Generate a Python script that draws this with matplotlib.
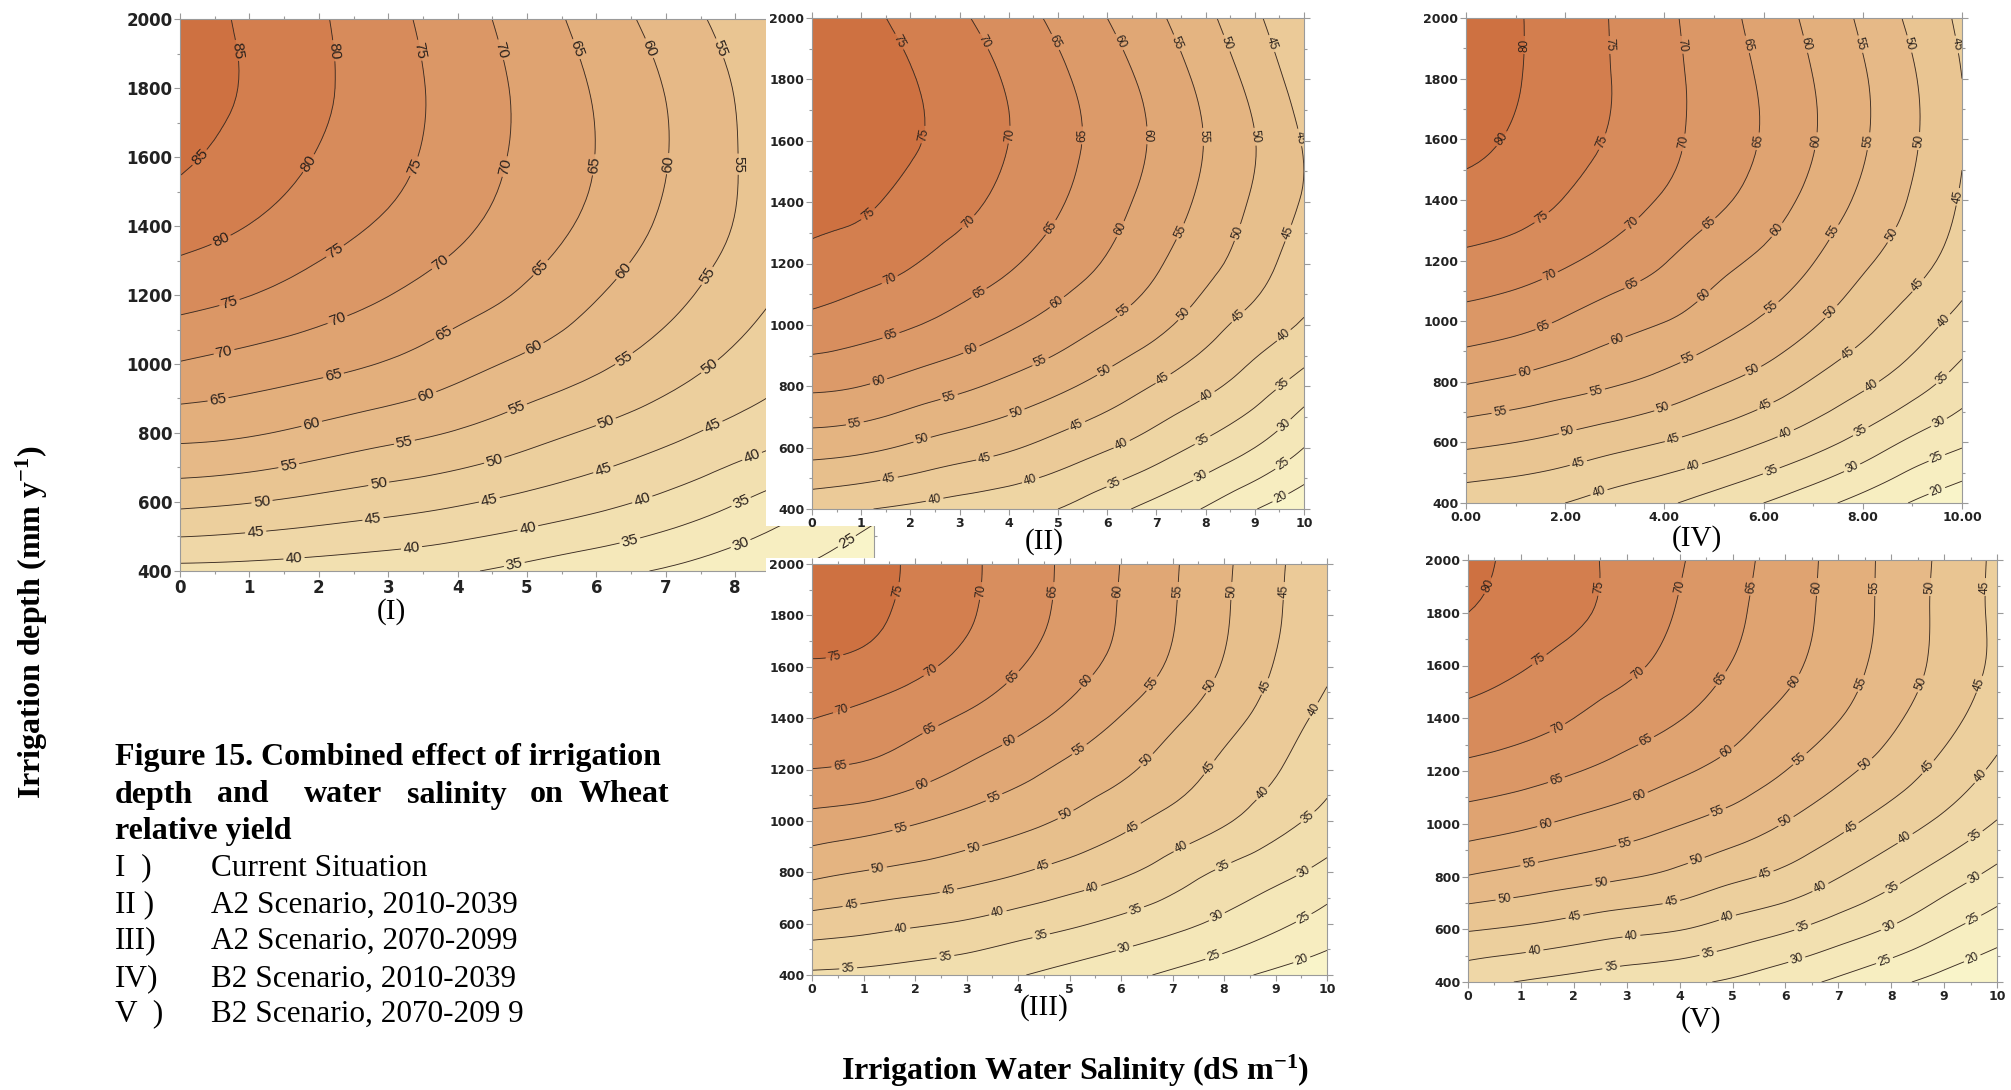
import numpy as np
import matplotlib
matplotlib.use('Agg')
import matplotlib.pyplot as plt
import matplotlib.tri as mtri
from matplotlib.colors import LinearSegmentedColormap
from matplotlib.patches import Rectangle
from matplotlib.ticker import MultipleLocator, FormatStrFormatter

plt.rcParams['font.family'] = ['Liberation Serif', 'DejaVu Serif']
plt.rcParams['mathtext.default'] = 'regular'

# salinity (dS/m) along x, irrigation depth (mm/y) along y
salinity = [0, 1, 2, 3, 4, 5, 6, 7, 8, 9, 10]
depth = [400, 600, 800, 1000, 1200, 1400, 1600, 1800, 2000]

# relative yield (%), one row per depth (400 -> 2000)
yield_current = [
    [38.5, 38.2, 37.6, 36.8, 35.6, 33.6, 31.5, 29.5, 27.0, 24.5, 22.0],
    [51.2, 50.2, 48.7, 47.2, 45.6, 43.6, 41.4, 38.7, 35.3, 31.3, 27.0],
    [61.4, 60.5, 58.6, 56.6, 54.6, 51.9, 49.2, 46.4, 43.3, 40.0, 35.0],
    [69.7, 68.1, 66.5, 64.6, 61.8, 58.9, 55.9, 52.5, 48.8, 45.0, 40.5],
    [76.9, 75.1, 72.6, 70.1, 67.3, 64.2, 60.3, 56.6, 52.5, 48.2, 43.5],
    [82.0, 79.9, 77.1, 74.2, 71.0, 67.5, 63.6, 59.1, 54.8, 50.0, 45.0],
    [85.8, 83.0, 79.7, 76.5, 72.8, 68.9, 64.9, 60.2, 55.2, 50.5, 45.5],
    [87.0, 84.5, 80.9, 77.1, 73.1, 68.9, 64.5, 59.8, 54.8, 50.0, 45.0],
    [87.5, 84.1, 80.6, 76.5, 72.2, 67.7, 62.8, 57.9, 53.0, 48.0, 43.0],
]
yield_a2_2039 = [
    [41.5, 40.3, 39.1, 37.8, 36.5, 35.0, 31.7, 28.2, 24.6, 20.2, 16.5],
    [52.0, 51.1, 49.3, 47.4, 45.6, 43.1, 40.4, 37.3, 33.8, 30.0, 25.0],
    [60.9, 60.0, 58.0, 56.0, 53.7, 51.1, 48.0, 44.6, 41.2, 37.3, 32.6],
    [68.4, 67.0, 65.4, 63.2, 60.7, 57.9, 54.8, 51.4, 47.1, 43.0, 39.5],
    [73.7, 72.2, 70.3, 68.0, 65.6, 62.7, 59.5, 55.6, 51.5, 47.2, 42.0],
    [76.3, 75.7, 73.6, 71.3, 68.6, 65.5, 61.9, 58.0, 53.8, 49.3, 44.5],
    [77.5, 76.5, 75.5, 72.8, 70.0, 66.7, 63.2, 59.2, 54.8, 50.1, 44.6],
    [78.0, 77.0, 75.3, 72.5, 69.5, 66.0, 62.3, 58.2, 53.6, 48.4, 42.5],
    [77.5, 76.3, 73.5, 70.7, 67.4, 63.9, 60.0, 55.9, 51.2, 45.9, 40.5],
]
yield_a2_2099 = [
    [34.2, 33.8, 33.0, 31.9, 30.3, 28.3, 26.3, 24.1, 21.5, 19.0, 17.0],
    [42.8, 41.8, 40.6, 39.4, 37.6, 35.8, 33.7, 31.4, 28.9, 26.0, 23.0],
    [51.2, 49.8, 48.6, 47.1, 45.3, 43.1, 40.8, 37.6, 34.2, 31.5, 28.4],
    [58.4, 57.3, 55.5, 53.5, 51.5, 49.2, 46.4, 43.5, 40.6, 36.9, 33.5],
    [64.9, 64.2, 62.2, 59.4, 56.7, 53.8, 51.0, 47.5, 43.9, 40.4, 36.3],
    [70.1, 68.6, 66.6, 64.4, 61.7, 58.5, 54.8, 51.0, 46.9, 42.8, 38.5],
    [74.3, 73.5, 71.2, 68.4, 65.3, 62.0, 58.4, 54.2, 49.6, 44.7, 40.7],
    [78.0, 76.3, 73.6, 70.6, 67.2, 63.6, 59.6, 55.3, 50.6, 45.6, 41.4],
    [78.5, 77.0, 74.1, 71.0, 67.6, 63.9, 59.9, 55.6, 50.9, 45.9, 41.6],
]
yield_b2_2039 = [
    [42.0, 41.2, 40.0, 37.8, 35.7, 32.9, 30.0, 26.7, 23.2, 19.7, 16.5],
    [51.1, 50.0, 48.5, 46.7, 44.9, 42.7, 40.0, 36.9, 33.2, 29.0, 25.8],
    [60.4, 59.0, 57.3, 55.6, 53.5, 50.8, 48.1, 44.6, 41.1, 37.3, 32.8],
    [68.0, 66.7, 64.5, 62.0, 60.1, 57.4, 54.4, 50.7, 46.7, 42.7, 38.4],
    [73.9, 72.7, 70.7, 68.2, 65.3, 61.8, 59.0, 55.2, 50.9, 47.1, 42.5],
    [78.4, 77.2, 74.8, 72.2, 69.5, 66.3, 62.7, 58.5, 54.0, 49.5, 44.5],
    [81.3, 79.4, 76.9, 74.4, 71.3, 68.1, 64.6, 60.3, 55.6, 50.7, 45.3],
    [83.3, 80.4, 77.5, 74.8, 71.5, 68.0, 64.3, 60.0, 55.5, 50.5, 45.0],
    [83.5, 80.5, 77.6, 74.6, 71.1, 67.3, 63.1, 58.7, 54.1, 48.9, 44.0],
]
yield_b2_2099 = [
    [36.5, 34.8, 33.5, 32.2, 30.9, 29.3, 26.8, 24.1, 21.1, 18.3, 15.5],
    [45.4, 44.3, 42.8, 41.3, 40.2, 37.9, 35.6, 32.6, 29.5, 25.7, 22.3],
    [54.8, 53.3, 51.8, 50.4, 48.6, 46.0, 43.7, 40.2, 36.5, 32.5, 28.5],
    [62.3, 60.9, 59.1, 57.3, 55.2, 52.9, 49.8, 46.3, 42.6, 38.8, 34.6],
    [68.6, 67.2, 65.3, 63.1, 60.7, 58.2, 55.0, 51.3, 47.6, 43.4, 39.0],
    [73.6, 72.1, 70.0, 67.6, 65.2, 62.0, 58.6, 55.2, 51.0, 46.7, 42.0],
    [77.1, 75.4, 73.2, 71.0, 68.1, 64.8, 61.3, 57.3, 53.0, 48.5, 44.0],
    [80.0, 78.0, 75.9, 73.0, 69.6, 66.0, 62.3, 58.1, 53.5, 48.7, 44.0],
    [81.5, 78.7, 76.3, 73.5, 70.4, 66.7, 62.7, 58.3, 53.6, 48.9, 44.0],
]

panel_names = ['(I)', '(II)', '(III)', '(IV)', '(V)']
caption_title = 'Figure 15. Combined effect of irrigation'
caption_words = ['depth', 'and', 'water', 'salinity', 'on', 'Wheat']
caption_last = 'relative yield'
caption_items = [('I  )', 'Current Situation'),
                 ('II )', 'A2 Scenario, 2010-2039'),
                 ('III)', 'A2 Scenario, 2070-2099'),
                 ('IV)', 'B2 Scenario, 2010-2039'),
                 ('V  )', 'B2 Scenario, 2070-209 9')]

W, H = 2011, 1090
fig = plt.figure(figsize=(W / 100, H / 100), dpi=100)


def box(l, t, r, b):
    return [l / W, 1 - b / H, (r - l) / W, (b - t) / H]


cmap = LinearSegmentedColormap.from_list(
    'yld', ['#faf7cd', '#f4e6b7', '#ecce9c', '#e3b07d', '#d98f5f', '#cc6a3a'])

# smooth the drawing of the coarse grid with matplotlib's own tri refiner
gx, gy = np.meshgrid(salinity, depth)
triang = mtri.Triangulation(gx.ravel() / 10.0, gy.ravel() / 1600.0)
refiner = mtri.UniformTriRefiner(triang)


def place_labels(ax, cs, first, step, size):
    to_disp = ax.transData
    to_data = ax.transData.inverted()
    pts = []
    for path in cs.get_paths():
        for line in path.to_polygons(closed_only=False):
            if len(line) < 2:
                continue
            d = to_disp.transform(line)
            if d[-1].sum() > d[0].sum():
                d = d[::-1]
            seg = np.hypot(*np.diff(d, axis=0).T)
            cum = np.concatenate([[0], np.cumsum(seg)])
            total = cum[-1]
            if total < 40:
                continue
            s = first
            while s < total - 18:
                i = min(max(np.searchsorted(cum, s) - 1, 0), len(seg) - 1)
                f = (s - cum[i]) / seg[i] if seg[i] > 0 else 0
                p = d[i] + f * (d[i + 1] - d[i])
                pts.append(to_data.transform(p))
                s += step
    texts = ax.clabel(cs, manual=pts, fmt='%d', fontsize=size, inline=True,
                      inline_spacing=3, colors='#2a211c')
    for t in texts:
        t.set_fontfamily('Liberation Sans')


def draw_panel(rect, grid, tick_size, lab_size, first, step, zo, xmajor=1, xminor=0.5, xfmt='%d'):
    ax = fig.add_axes(box(*rect))
    ax.set_zorder(zo)
    z = np.array(grid, dtype=float)
    lo = 5 * np.floor(z.min() / 5)
    hi = 5 * np.ceil(z.max() / 5)
    lev = np.arange(lo, hi + 1, 5)
    fine_tri, fine_z = refiner.refine_field(z.ravel(), subdiv=3)
    fine_tri = mtri.Triangulation(fine_tri.x * 10.0, fine_tri.y * 1600.0, fine_tri.triangles)
    ax.tricontourf(fine_tri, fine_z, levels=lev, cmap=cmap, extend='both')
    cs = ax.tricontour(fine_tri, fine_z, levels=lev[1:-1], colors='#3b2d24', linewidths=0.65)
    ax.set_xlim(0, 10)
    ax.set_ylim(400, 2000)
    ax.xaxis.set_major_locator(MultipleLocator(xmajor))
    ax.xaxis.set_minor_locator(MultipleLocator(xminor))
    ax.xaxis.set_major_formatter(FormatStrFormatter(xfmt))
    ax.yaxis.set_major_locator(MultipleLocator(200))
    ax.yaxis.set_minor_locator(MultipleLocator(100))
    ax.tick_params(which='both', direction='out', top=True, right=True, color='#9a9a9a',
                   labelcolor='#222222', labelsize=tick_size, width=0.8, pad=1.5)
    ax.tick_params(which='major', length=4)
    ax.tick_params(which='minor', length=2)
    for lab in ax.get_xticklabels() + ax.get_yticklabels():
        lab.set_fontfamily('DejaVu Sans')
        lab.set_fontweight('bold')
    for sp in ax.spines.values():
        sp.set_color('#9a9a9a')
        sp.set_linewidth(0.8)
    place_labels(ax, cs, first, step, lab_size)
    return ax


ax1 = draw_panel((180, 19, 874, 571), yield_current, 12, 11, 32, 118, 0)

# white backgrounds of the pasted panels II and III
fig.add_artist(Rectangle((766 / W, 1 - 526 / H), (1335 - 766) / W, 526 / H,
                         transform=fig.transFigure, facecolor='white', edgecolor='none', zorder=0.5))
fig.add_artist(Rectangle((766 / W, 1 - 1045 / H), (1345 - 766) / W, (1045 - 558) / H,
                         transform=fig.transFigure, facecolor='white', edgecolor='none', zorder=0.5))

ax2 = draw_panel((812, 18, 1304, 509), yield_a2_2039, 9, 8.5, 27, 98, 1)
ax3 = draw_panel((812, 564, 1327, 975), yield_a2_2099, 9, 8.5, 27, 98, 1)
ax4 = draw_panel((1466, 18, 1962, 503), yield_b2_2039, 9, 8.5, 27, 98, 1,
                 xmajor=2, xminor=1, xfmt='%.2f')
ax5 = draw_panel((1468, 560, 1997, 982), yield_b2_2099, 9, 8.5, 27, 98, 1)

label_pos = [(391, 612), (1044, 542), (1044, 1008), (1697, 539), (1701, 1020)]
for name, (px, py) in zip(panel_names, label_pos):
    fig.text(px / W, 1 - py / H, name, fontsize=21, ha='center', va='center')

fig.text(32 / W, 1 - 622 / H, 'Irrigation depth (mm y$^{-1}$)', rotation=90,
         fontsize=23, fontweight='bold', ha='center', va='center')
fig.text(1075 / W, 1 - 1071 / H, 'Irrigation Water Salinity (dS m$^{-1}$)',
         fontsize=23, fontweight='bold', ha='center', va='center')

fig.text(115 / W, 1 - 758 / H, caption_title, fontsize=23, fontweight='bold', va='center')
word_x = [115, 217, 304, 407, 530]
for w, wx in zip(caption_words[:-1], word_x):
    fig.text(wx / W, 1 - 795 / H, w, fontsize=23, fontweight='bold', va='center')
fig.text(669 / W, 1 - 795 / H, caption_words[-1], fontsize=23, fontweight='bold',
         va='center', ha='right')
fig.text(115 / W, 1 - 832 / H, caption_last, fontsize=23, fontweight='bold', va='center')

item_y = [868, 905, 941, 979, 1014]
for (num, txt), iy in zip(caption_items, item_y):
    fig.text(115 / W, 1 - iy / H, num, fontsize=22.5, va='center')
    fig.text(211 / W, 1 - iy / H, txt, fontsize=22.5, va='center')

fig.savefig('out.png', dpi=100, facecolor='white')
